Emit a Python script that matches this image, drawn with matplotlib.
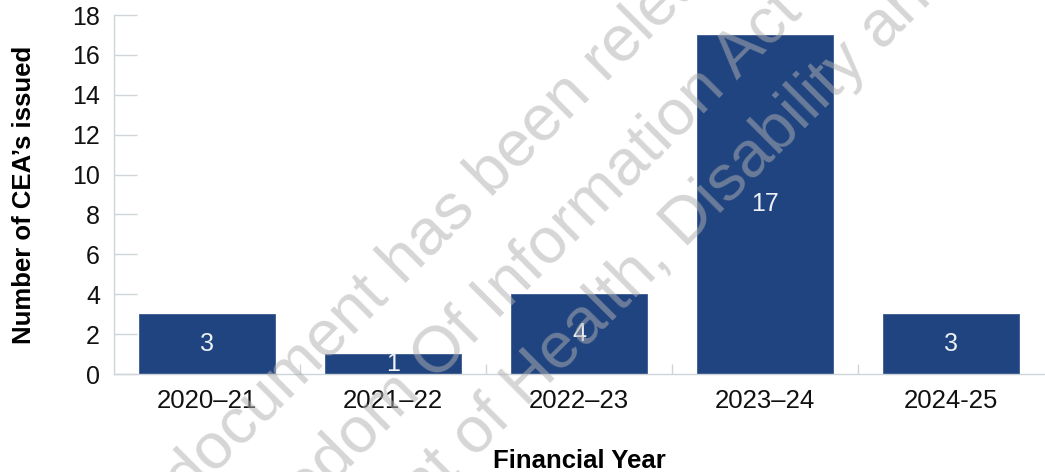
import numpy as np
import matplotlib
matplotlib.use("Agg")
import matplotlib.pyplot as plt
from matplotlib.ticker import FixedLocator
from matplotlib.font_manager import FontProperties

plt.rcParams['font.family'] = ['Liberation Sans', 'DejaVu Sans']

years = ['2020\u201321', '2021\u201322', '2022\u201323', '2023\u201324', '2024-25']
ceas = [3, 1, 4, 17, 3]

# watermark lines, the word used to place each line, and where that word sits (px from top-left)
wm_lines = [
    'This document has been released under the',
    'Freedom Of Information Act 1982 by the',
    'Department of Health, Disability and Ageing',
]
wm_words = ['has', 'Information', 'Disability']
wm_spots = [(428, 236), (600, 194), (765, 145)]

bar_color = '#1f4480'
axis_grey = '#cfd4d8'
W, H = 1045, 472

fig = plt.figure(figsize=(W / 100, H / 100), dpi=100)
ax = fig.add_axes([0.109, 0.2076, 0.89, 0.7606])

x = np.arange(len(years))
bars = ax.bar(x, ceas, width=0.73, color=bar_color, edgecolor='#3a5a92', linewidth=0.6, zorder=2)

for b, v in zip(bars, ceas):
    ax.text(b.get_x() + b.get_width() / 2, v / 2, str(v), ha='center', va='center',
            color='#eef1f5', fontsize=18, zorder=3)

ax.set_xlim(-0.5, len(years) - 0.5)
ax.set_ylim(0, 18)
ax.set_yticks(range(0, 19, 2))
ax.set_xticks(x)
ax.set_xticklabels(years)
ax.xaxis.set_minor_locator(FixedLocator(x[:-1] + 0.5))

ax.tick_params(axis='y', direction='in', length=16.5, width=1, color=axis_grey,
               labelsize=18, pad=10, labelcolor='#111111')
ax.tick_params(axis='x', which='major', length=0, labelsize=18.5, pad=11, labelcolor='#111111')
ax.tick_params(axis='x', which='minor', direction='in', length=7, width=1, color=axis_grey)

for s in ['top', 'right']:
    ax.spines[s].set_visible(False)
for s in ['left', 'bottom']:
    ax.spines[s].set_color(axis_grey)
    ax.spines[s].set_linewidth(1)

ax.set_ylabel("Number of CEA\u2019s issued", fontsize=18.5, fontweight='bold', labelpad=26)
ax.set_xlabel('Financial Year', fontsize=18.5, fontweight='bold', labelpad=26)

# faint release watermark, rotated 45 degrees
angle = 45
wm_size = 47
prop = FontProperties(family='Liberation Sans', size=wm_size)
renderer = fig.canvas.get_renderer()
ca, sa = np.cos(np.radians(angle)), np.sin(np.radians(angle))
for line, word, (px, py) in zip(wm_lines, wm_words, wm_spots):
    prefix = line[:line.index(word)]
    w_full, _, _ = renderer.get_text_width_height_descent(prefix + word, prop, ismath=False)
    w_word, _, _ = renderer.get_text_width_height_descent(word, prop, ismath=False)
    off = w_full - w_word / 2
    sx = px - off * ca
    sy = py + off * sa
    fig.text(sx / W, 1 - sy / H, line, rotation=angle, rotation_mode='anchor',
             ha='left', va='center', fontproperties=prop,
             color='#b0b0b0', alpha=0.52, zorder=10)

fig.savefig('out.png', dpi=100)
